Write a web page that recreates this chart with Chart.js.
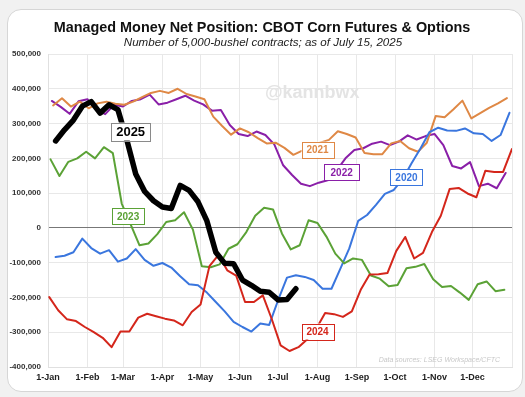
<!DOCTYPE html>
<html>
<head>
<meta charset="utf-8">
<script src="https://cdn.jsdelivr.net/npm/chart.js@4"></script>
<style>
  html, body { margin: 0; padding: 0; background: #f1f1f1; }
  #card {
    position: absolute; left: 7px; top: 9px; width: 514px; height: 381px;
    background: #fff; border: 1px solid #d6d6d6; border-radius: 14px;
  }
  #wrap { position: absolute; left: 0; top: 0; width: 525px; height: 397px; }
</style>
</head>
<body>
<div id="card"></div>
<div id="wrap"><canvas id="myChart" width="525" height="397"></canvas></div>
<script>
// day-of-year of month starts, and their labels
var monthDays = [0, 31, 59, 90, 120, 151, 181, 212, 243, 273, 304, 334, 365];
var monthLabels = ['1-Jan','1-Feb','1-Mar','1-Apr','1-May','1-Jun','1-Jul','1-Aug','1-Sep','1-Oct','1-Nov','1-Dec',''];

// weekly CFTC readings (contracts), first report day of each year
var start2020 = 6;
var net2020 = [-84000,-80000,-70000,-31000,-58000,-74000,-64000,-97000,-88000,-61000,-92000,-109000,-101000,
  -114000,-139000,-162000,-165000,-186000,-213000,-240000,-270000,-285000,-298000,-275000,-279000,-208000,
  -143000,-136000,-141000,-150000,-175000,-175000,-117000,-59000,20000,37000,66000,98000,109000,140000,
  186000,228000,275000,288000,280000,279000,286000,272000,270000,250000,267000,331000];

var start2021 = 4;
var net2021 = [352000,373000,349000,363000,344000,358000,363000,357000,354000,363000,376000,388000,394000,
  388000,400000,385000,378000,370000,320000,293000,268000,286000,275000,258000,243000,245000,230000,
  210000,222000,235000,245000,253000,278000,270000,260000,215000,212000,212000,243000,250000,229000,
  219000,245000,322000,318000,341000,366000,315000,330000,345000,358000,373000];

var start2022 = 3;
var net2022 = [365000,348000,328000,364000,370000,340000,327000,354000,349000,365000,370000,383000,355000,
  360000,370000,380000,366000,355000,337000,339000,296000,270000,264000,277000,267000,240000,180000,
  152000,127000,120000,130000,137000,165000,200000,224000,229000,242000,248000,238000,248000,266000,
  254000,264000,270000,238000,178000,171000,189000,120000,127000,114000,158000];

var start2023 = 2;
var net2023 = [197000,149000,190000,200000,219000,200000,232000,215000,70000,10000,-50000,-45000,-18000,
  17000,22000,45000,-5000,-110000,-113000,-105000,-60000,-47000,-12000,35000,58000,53000,-16000,-62000,
  -50000,22000,14000,-25000,-74000,-102000,-88000,-92000,-137000,-146000,-168000,-164000,-116000,-112000,
  -104000,-148000,-170000,-167000,-186000,-207000,-162000,-154000,-182000,-178000];

var start2024 = 1;
var net2024 = [-199000,-237000,-263000,-268000,-285000,-300000,-316000,-343000,-298000,-298000,-258000,
  -247000,-254000,-261000,-266000,-280000,-242000,-220000,-110000,-78000,-122000,-137000,-213000,-213000,
  -194000,-262000,-338000,-354000,-343000,-320000,-290000,-245000,-248000,-256000,-240000,-178000,-134000,
  -133000,-130000,-66000,-26000,-88000,-72000,-12000,35000,112000,115000,99000,88000,164000,161000,161000,227000];

var start2025 = 6;
var net2025 = [250000,282000,310000,350000,363000,330000,354000,340000,253000,155000,105000,78000,60000,
  56000,122000,108000,75000,20000,-70000,-102000,-103000,-150000,-165000,-182000,-185000,-207000,-206000,-175000];

var years = ['2025', '2024', '2023', '2020', '2021', '2022'];
var colors = { '2020': '#3a76de', '2021': '#df8845', '2022': '#8a1fa8', '2023': '#5ba236', '2024': '#d4261b', '2025': '#000000' };
var series = { '2020': [start2020, net2020], '2021': [start2021, net2021], '2022': [start2022, net2022],
               '2023': [start2023, net2023], '2024': [start2024, net2024], '2025': [start2025, net2025] };

// where each year tag sits (day of year, contracts)
var tagSpots = { '2025': [65, 277000], '2023': [63, 34000], '2021': [212, 225000],
                 '2022': [231, 160000], '2020': [282, 146000], '2024': [212, -298000] };

function weekly(start, vals) {
    return vals.map(function(v, i) { return { x: start + 7 * i, y: v }; });
}

var font = '"Liberation Sans", Arial, sans-serif';

var decor = {
    id: 'decor',
    beforeDatasetsDraw: function(chart) {
        var ctx = chart.ctx;
        ctx.save();
        ctx.fillStyle = '#e4e4e4';
        ctx.font = 'bold 18px ' + font;
        ctx.textAlign = 'left';
        ctx.textBaseline = 'middle';
        ctx.fillText('@kannbwx', 265, 93);
        ctx.restore();
    },
    afterDatasetsDraw: function(chart) {
        var ctx = chart.ctx;
        var xs = chart.scales.x, ys = chart.scales.y;
        ctx.save();
        years.forEach(function(yr) {
            var px = xs.getPixelForValue(tagSpots[yr][0]);
            var py = ys.getPixelForValue(tagSpots[yr][1]);
            var big = yr === '2025';
            ctx.font = 'bold ' + (big ? 13 : 10) + 'px ' + font;
            var w = big ? 39 : (yr === '2022' ? 35 : 32);
            var h = big ? 18 : 16;
            ctx.fillStyle = '#fff';
            ctx.fillRect(px - w / 2, py - h / 2, w, h);
            ctx.strokeStyle = big ? '#8a8a8a' : colors[yr];
            ctx.lineWidth = 1;
            ctx.strokeRect(Math.round(px - w / 2) + 0.5, Math.round(py - h / 2) + 0.5, w, h);
            ctx.fillStyle = big ? '#000' : colors[yr];
            ctx.textAlign = 'center';
            ctx.textBaseline = 'middle';
            ctx.fillText(yr, px, py + 1);
        });
        ctx.restore();
    },
    afterDraw: function(chart) {
        var ctx = chart.ctx;
        ctx.save();
        ctx.textAlign = 'center';
        ctx.textBaseline = 'alphabetic';
        ctx.fillStyle = '#111';
        ctx.font = 'bold 14.4px ' + font;
        ctx.fillText('Managed Money Net Position: CBOT Corn Futures & Options', 262, 32);
        ctx.fillStyle = '#222';
        ctx.font = 'italic 11.6px ' + font;
        ctx.fillText('Number of 5,000-bushel contracts; as of July 15, 2025', 263, 46);
        ctx.fillStyle = '#c8c8c8';
        ctx.font = 'italic 7px ' + font;
        ctx.textAlign = 'right';
        ctx.fillText('Data sources: LSEG Workspace/CFTC', 500, 362);
        ctx.restore();
    }
};

new Chart(document.getElementById('myChart'), {
    type: 'line',
    data: {
        datasets: years.map(function(yr) {
            return {
                label: yr,
                data: weekly(series[yr][0], series[yr][1]),
                borderColor: colors[yr],
                borderWidth: yr === '2025' ? 5.5 : 2,
                pointRadius: 0,
                tension: 0,
                borderJoinStyle: 'round',
                borderCapStyle: 'round',
                fill: false
            };
        })
    },
    options: {
        responsive: false,
        animation: false,
        layout: { padding: { left: 0, right: 13, top: 54, bottom: 10 } },
        plugins: { legend: { display: false }, tooltip: { enabled: false } },
        scales: {
            x: {
                type: 'linear',
                min: 0,
                max: 365,
                afterBuildTicks: function(axis) {
                    axis.ticks = monthDays.map(function(d) { return { value: d }; });
                },
                afterFit: function(axis) { axis.height = 20; },
                ticks: {
                    autoSkip: false,
                    maxRotation: 0,
                    padding: 5,
                    color: '#222',
                    font: { family: font, size: 9, weight: 'bold' },
                    callback: function(v) { return monthLabels[monthDays.indexOf(v)]; }
                },
                grid: { color: '#e8e8e8', drawTicks: false },
                border: { color: '#e0e0e0' }
            },
            y: {
                min: -400000,
                max: 500000,
                afterBuildTicks: function(axis) {
                    var t = [];
                    for (var v = -400000; v <= 500000; v += 100000) t.push({ value: v });
                    axis.ticks = t;
                },
                afterFit: function(axis) { axis.width = 48; },
                ticks: {
                    padding: 7,
                    color: '#333',
                    font: { family: font, size: 8, weight: 'bold' },
                    callback: function(v) { return v.toLocaleString('en-US'); }
                },
                grid: {
                    drawTicks: false,
                    color: function(c) { return c.tick && c.tick.value === 0 ? '#777' : '#e8e8e8'; }
                },
                border: { color: '#e0e0e0' }
            }
        }
    },
    plugins: [decor]
});
</script>
</body>
</html>
